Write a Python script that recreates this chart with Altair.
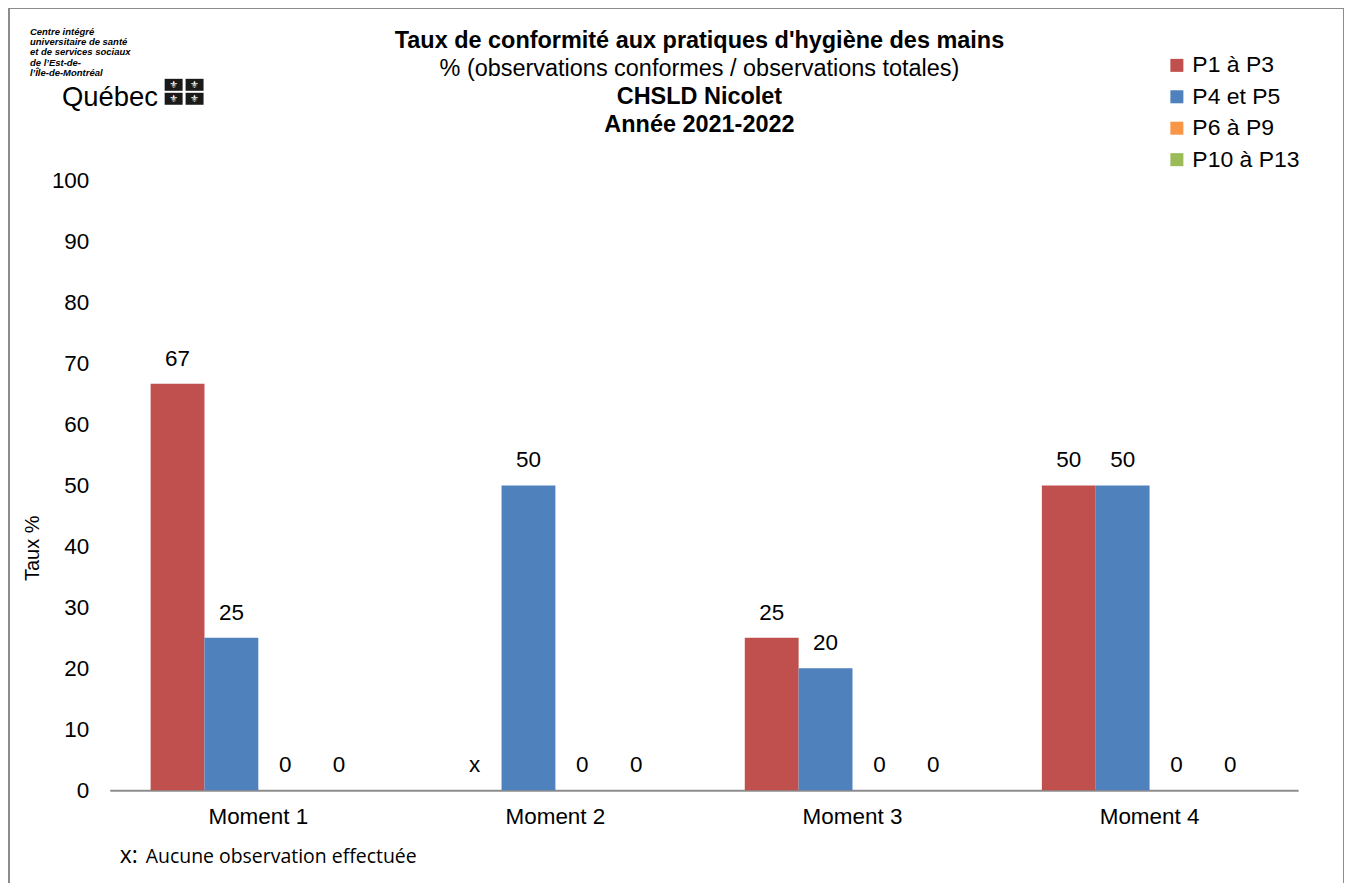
import altair as alt
import pandas as pd

categories = ["Moment 1", "Moment 2", "Moment 3", "Moment 4"]
series = ["P1 à P3", "P4 et P5", "P6 à P9", "P10 à P13"]
colors = ["#C0504D", "#4F81BD", "#F79646", "#9BBB59"]
p1_p3 = [66.67, None, 25, 50]
p4_p5 = [25, 50, 20, 50]
p6_p9 = [0, 0, 0, 0]
p10_p13 = [0, 0, 0, 0]
y_ticks = [0, 10, 20, 30, 40, 50, 60, 70, 80, 90, 100]

title_lines = [
    ("Taux de conformité aux pratiques d'hygiène des mains", "bold"),
    ("% (observations conformes / observations totales)", "normal"),
    ("CHSLD Nicolet", "bold"),
    ("Année 2021-2022", "bold"),
]
logo_lines = ["Centre intégré", "universitaire de santé", "et de services sociaux",
              "de l’Est-de-", "l’Île-de-Montréal"]
footnote_mark = "x:"
footnote = "Aucune observation effectuée"

rows = []
for s, vals in zip(series, [p1_p3, p4_p5, p6_p9, p10_p13]):
    for c, v in zip(categories, vals):
        rows.append({
            "Moment": c,
            "Série": s,
            "Taux": v,
            "ypos": 0 if v is None else v,
            "label": "x" if v is None else f"{v:.0f}",
        })
df = pd.DataFrame(rows)

FONT = "Liberation Sans"
W, H = 1191, 611

x_enc = alt.X("Moment:N", sort=categories,
              scale=alt.Scale(paddingInner=0.275, paddingOuter=0.1375),
              axis=alt.Axis(title=None, labelFontSize=22.5, labelFont=FONT, labelColor="#000",
                            ticks=False, domainColor="#8c8c8c", domainWidth=2,
                            labelPadding=15, labelAngle=0))
xoff = alt.XOffset("Série:N", sort=series, scale=alt.Scale(paddingInner=0, paddingOuter=0))
y_scale = alt.Scale(domain=[0, 100])

bars = alt.Chart(df).mark_bar().encode(
    x=x_enc,
    xOffset=xoff,
    y=alt.Y("Taux:Q", scale=y_scale,
            axis=alt.Axis(title="Taux %", values=y_ticks, labelFontSize=22.5, labelFont=FONT,
                          labelColor="#000", ticks=False, domain=False, grid=False,
                          labelPadding=21, titleFont=FONT, titleFontSize=20,
                          titleFontWeight="normal", titleColor="#000",
                          titleX=-67, titleY=368, titleAngle=270)),
    color=alt.Color("Série:N", sort=series,
                    scale=alt.Scale(domain=series, range=colors),
                    legend=alt.Legend(title=None, orient="none", legendX=1058, legendY=-127,
                                      symbolType="square", symbolSize=170, symbolStrokeWidth=0,
                                      labelFontSize=23, labelFont=FONT, labelColor="#000",
                                      rowPadding=7.5, labelOffset=4)),
)

labels = alt.Chart(df).mark_text(fontSize=22.5, font=FONT, color="#000", dy=-18,
                                 baseline="alphabetic").encode(
    x=alt.X("Moment:N", sort=categories),
    xOffset=xoff,
    y=alt.Y("ypos:Q", scale=y_scale),
    text="label:N",
)

title_layers = []
for i, (t, w) in enumerate(title_lines):
    title_layers.append(
        alt.Chart(pd.DataFrame({"t": [t]})).mark_text(
            fontSize=23.5, font=FONT, fontWeight=w, color="#000", baseline="middle", align="center"
        ).encode(x=alt.value(591), y=alt.value(-140 + 28 * i), text="t:N")
    )

logo_layers = []
for i, t in enumerate(logo_lines):
    logo_layers.append(
        alt.Chart(pd.DataFrame({"t": [t]})).mark_text(
            fontSize=9.5, font=FONT, fontWeight="bold", fontStyle="italic", color="#000",
            baseline="middle", align="left"
        ).encode(x=alt.value(-80), y=alt.value(-149 + 10.3 * i), text="t:N")
    )
logo_layers.append(
    alt.Chart(pd.DataFrame({"t": ["Québec"]})).mark_text(
        fontSize=27.5, font=FONT, color="#000", baseline="alphabetic", align="left"
    ).encode(x=alt.value(-48), y=alt.value(-75), text="t:N")
)
for (fx, fy) in [(55, -102), (76, -102), (55, -88), (76, -88)]:
    logo_layers.append(
        alt.Chart(pd.DataFrame({"t": ["⚜"]})).mark_rect(color="#1a1a1a").encode(
            x=alt.value(fx), x2=alt.value(fx + 18), y=alt.value(fy), y2=alt.value(fy + 12))
    )
    logo_layers.append(
        alt.Chart(pd.DataFrame({"t": ["⚜"]})).mark_text(
            fontSize=10, font="DejaVu Sans", color="#fff", baseline="middle", align="center"
        ).encode(x=alt.value(fx + 9), y=alt.value(fy + 6), text="t:N")
    )

foot_x = alt.Chart(pd.DataFrame({"t": [footnote_mark]})).mark_text(
    fontSize=23, font="Open Sans", color="#000", baseline="alphabetic", align="left"
).encode(x=alt.value(10), y=alt.value(684), text="t:N")
foot = alt.Chart(pd.DataFrame({"t": [footnote]})).mark_text(
    fontSize=19.5, font="Open Sans", color="#000", baseline="alphabetic", align="left"
).encode(x=alt.value(36), y=alt.value(684), text="t:N")

border = alt.Chart(pd.DataFrame({"t": [0]})).mark_rect(
    fill="transparent", stroke="#8c8c8c", strokeWidth=2
).encode(x=alt.value(-101), x2=alt.value(1237), y=alt.value(-173), y2=alt.value(760))

chart = alt.layer(border, bars, labels, *title_layers, *logo_layers, foot_x, foot).properties(
    width=W, height=H,
    background="white",
    autosize=alt.AutoSizeParams(type="none"),
    padding={"left": 102, "top": 172, "right": 46, "bottom": 92},
).configure_view(stroke=None)

chart.save("out.html", embed_options={"renderer": "svg", "actions": False})
